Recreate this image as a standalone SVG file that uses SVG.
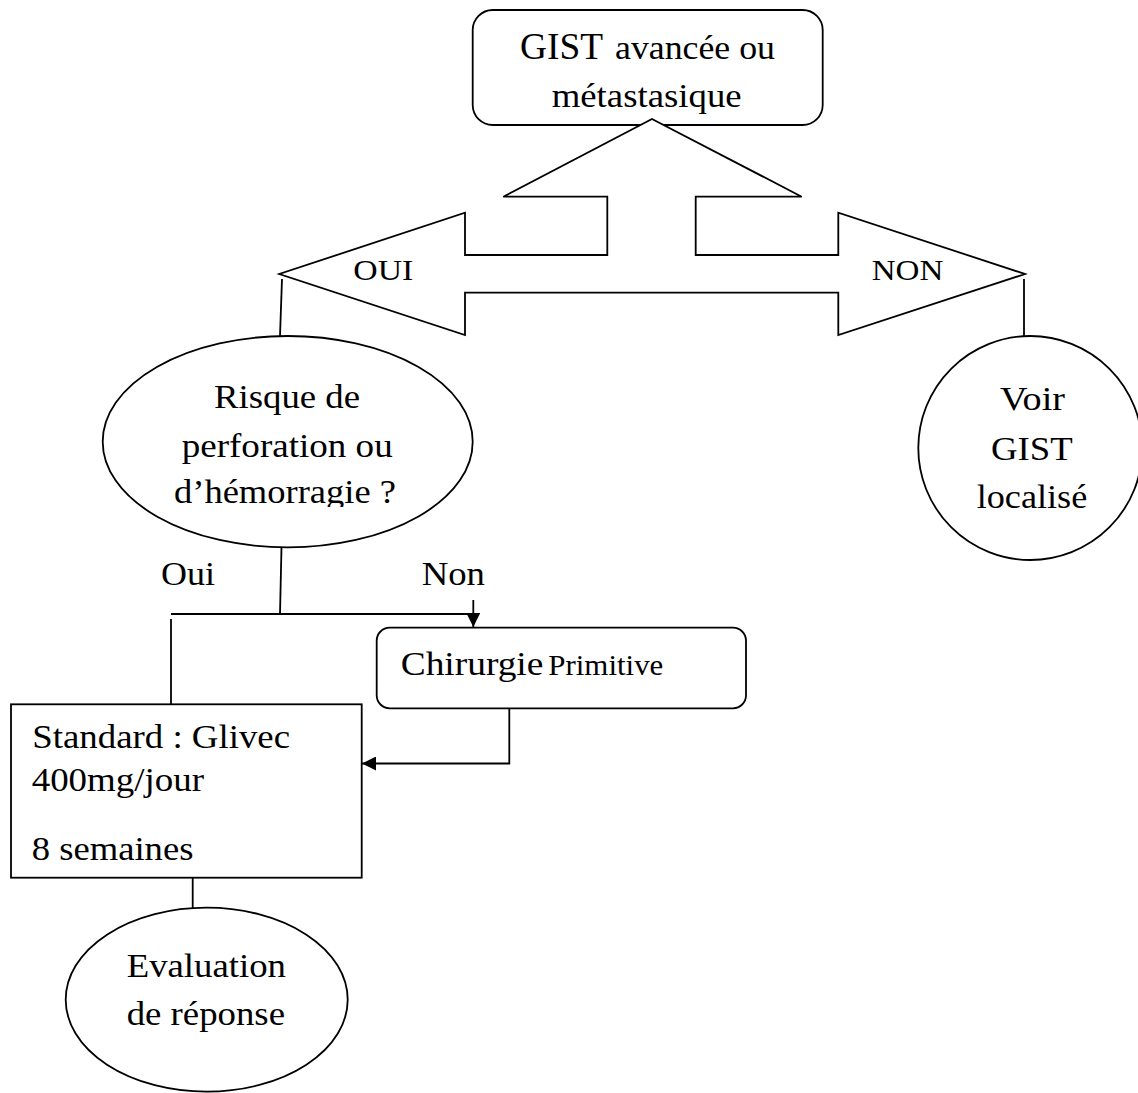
<svg xmlns="http://www.w3.org/2000/svg" width="1138" height="1093" viewBox="0 0 1138 1093">
<style>
.s{fill:#fff;stroke:#000;stroke-width:1.8}
.c{fill:none;stroke:#000;stroke-width:1.8}
text{font-family:"Liberation Serif","Times New Roman",serif;fill:#000;font-size:33px}
.l{font-size:30px}
.p{font-size:29px}
.g{font-size:38px}
</style>
<defs>
<marker id="ah" markerUnits="userSpaceOnUse" markerWidth="14" markerHeight="14" refX="14" refY="7" orient="auto">
<path d="M0,0 L14,7 L0,14 z" fill="#000"/>
</marker>
<clipPath id="clipRisk"><rect x="90" y="320" width="400" height="187"/></clipPath>
</defs>
<rect width="1138" height="1093" fill="#fff"/>

<g id="n-gist">
<rect class="s" x="472.7" y="10" width="350" height="115" rx="20" ry="20"/>
<text class="g" x="520" y="59.3" textLength="83" lengthAdjust="spacingAndGlyphs">GIST</text>
<text x="615" y="59.3" textLength="160" lengthAdjust="spacingAndGlyphs">avancée ou</text>
<text x="551.7" y="106.7" textLength="190" lengthAdjust="spacingAndGlyphs">métastasique</text>
</g>

<g id="n-choice">
<polygon class="s" points="652,119 801.7,196.7 695.7,196.7 695.7,255 838.3,255 838.3,212.7 1025,274 838.3,335 838.3,292.7 465,292.7 465,335 279.3,274 465,212.7 465,255 607.3,255 607.3,196.7 503.3,196.7"/>
<text class="l" x="353.3" y="280" textLength="60" lengthAdjust="spacingAndGlyphs">OUI</text>
<text class="l" x="871.7" y="280" textLength="71.6" lengthAdjust="spacingAndGlyphs">NON</text>
</g>

<g id="connectors">
<line class="c" x1="282" y1="279" x2="280" y2="336"/>
<line class="c" x1="1024" y1="279" x2="1024" y2="336"/>
<line class="c" x1="281.5" y1="547" x2="280" y2="614"/>
<line class="c" x1="171" y1="614" x2="473" y2="614"/>
<line class="c" x1="473.3" y1="600" x2="473.3" y2="627" marker-end="url(#ah)"/>
<line class="c" x1="171" y1="619" x2="171" y2="704"/>
<polyline class="c" points="509.3,708 509.3,763.5 362,763.5" marker-end="url(#ah)"/>
<line class="c" x1="192.7" y1="878" x2="192.7" y2="908"/>
</g>

<g id="n-risque">
<ellipse class="s" cx="287.7" cy="441.7" rx="185" ry="105.7"/>
<text x="214" y="408.3" textLength="146" lengthAdjust="spacingAndGlyphs">Risque de</text>
<text x="181.7" y="456.7" textLength="211" lengthAdjust="spacingAndGlyphs">perforation ou</text>
<text x="174" y="503.3" textLength="222" lengthAdjust="spacingAndGlyphs" clip-path="url(#clipRisk)">d’hémorragie ?</text>
</g>

<g id="n-voir">
<circle class="s" cx="1030.3" cy="448" r="112"/>
<text x="1000" y="410" textLength="65" lengthAdjust="spacingAndGlyphs">Voir</text>
<text x="991" y="460" textLength="81.7" lengthAdjust="spacingAndGlyphs">GIST</text>
<text x="976.7" y="508.3" textLength="110.6" lengthAdjust="spacingAndGlyphs">localisé</text>
</g>

<g id="labels">
<text x="161" y="585" textLength="54" lengthAdjust="spacingAndGlyphs">Oui</text>
<text x="421.7" y="585" textLength="63.3" lengthAdjust="spacingAndGlyphs">Non</text>
</g>

<g id="n-chirurgie">
<rect class="s" x="376.7" y="627.7" width="369.3" height="80.6" rx="13" ry="13"/>
<text x="400.7" y="675" textLength="142.7" lengthAdjust="spacingAndGlyphs">Chirurgie</text>
<text class="p" x="548.3" y="675" textLength="115" lengthAdjust="spacingAndGlyphs">Primitive</text>
</g>

<g id="n-standard">
<rect class="s" x="11" y="704.3" width="350.7" height="173.4"/>
<text x="32.3" y="747.7" textLength="257.7" lengthAdjust="spacingAndGlyphs">Standard : Glivec</text>
<text x="31.7" y="791.3" textLength="172.3" lengthAdjust="spacingAndGlyphs">400mg/jour</text>
<text x="31.7" y="860" textLength="161.7" lengthAdjust="spacingAndGlyphs">8 semaines</text>
</g>

<g id="n-evaluation">
<ellipse class="s" cx="206.7" cy="999.7" rx="141" ry="92"/>
<text x="126.7" y="976.7" textLength="159.3" lengthAdjust="spacingAndGlyphs">Evaluation</text>
<text x="126.7" y="1025" textLength="158.3" lengthAdjust="spacingAndGlyphs">de réponse</text>
</g>
</svg>
